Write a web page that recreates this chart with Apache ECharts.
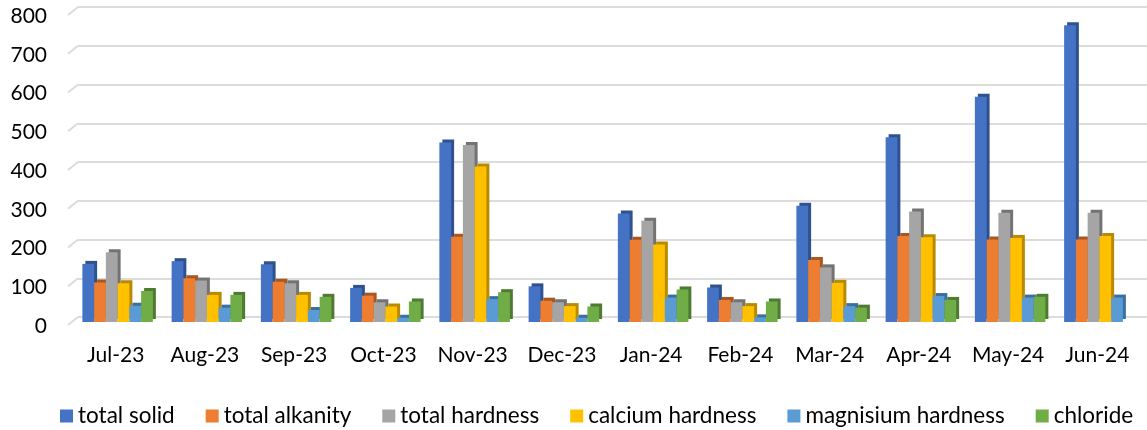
<!DOCTYPE html>
<html>
<head>
<meta charset="utf-8">
<title>Water quality parameters, Jul-23 to Jun-24</title>
<script src="https://cdn.jsdelivr.net/npm/echarts@6/dist/echarts.min.js"></script>
<style>
  html, body { margin: 0; padding: 0; background: #ffffff; }
  #chart { width: 1147px; height: 430px; }
</style>
</head>
<body>
<div id="chart"></div>
<script>
// Monthly categories
const months = ['Jul-23', 'Aug-23', 'Sep-23', 'Oct-23', 'Nov-23', 'Dec-23',
                'Jan-24', 'Feb-24', 'Mar-24', 'Apr-24', 'May-24', 'Jun-24'];

// Series values per month
const totalSolid        = [150, 157, 149, 88, 463, 92, 280, 89, 300, 477, 581, 766];
const totalAlkanity     = [102, 113, 104, 68, 220, 55, 212, 57, 160, 222, 213, 213];
const totalHardness     = [180, 107, 100, 51, 457, 51, 261, 51, 141, 285, 282, 282];
const calciumHardness   = [100, 70, 70, 40, 401, 41, 200, 41, 101, 219, 217, 222];
const magnisiumHardness = [42, 37, 31, 11, 59, 11, 63, 12, 41, 67, 63, 63];
const chloride          = [80, 70, 65, 53, 77, 40, 84, 53, 37, 57, 65, null];

// Value axis ticks
const yTicks = [0, 100, 200, 300, 400, 500, 600, 700, 800];

const seriesDefs = [
  { name: 'total solid',        data: totalSolid,        color: '#4472C4', side: '#2F528F' },
  { name: 'total alkanity',     data: totalAlkanity,     color: '#ED7D31', side: '#A9561F' },
  { name: 'total hardness',     data: totalHardness,     color: '#A5A5A5', side: '#737373' },
  { name: 'calcium hardness',   data: calciumHardness,   color: '#FFC000', side: '#B88A00' },
  { name: 'magnisium hardness', data: magnisiumHardness, color: '#5B9BD5', side: '#3A6F9F' },
  { name: 'chloride',           data: chloride,          color: '#70AD47', side: '#4E7B31' }
];

const FONT = 'Lato, "Open Sans", sans-serif';
const GRID_COLOR = '#DCDCDC';
const yMin = yTicks[0];
const yMax = yTicks[yTicks.length - 1];
const yStep = yTicks[1] - yTicks[0];

const chart = echarts.init(document.getElementById('chart'), null, { renderer: 'canvas' });

// short receding segment at the left end of each back-wall gridline
function renderWallEdge(params, api) {
  const y = api.coord([0, api.value(0)])[1];
  const x = params.coordSys.x;
  return {
    type: 'line',
    shape: { x1: x - 10, y1: y + 8, x2: x, y2: y },
    style: { stroke: GRID_COLOR, lineWidth: 2 },
    silent: true
  };
}

const hiddenValueAxis = {
  type: 'value', min: yMin, max: yMax, interval: yStep,
  axisLine: { show: false },
  axisTick: { show: false },
  splitLine: { show: false },
  axisLabel: { show: false }
};

chart.setOption({
  animation: false,
  backgroundColor: '#ffffff',
  grid: [
    // back wall carrying the gridlines
    { left: 78, right: 0, top: 7, bottom: 113 },
    // front plane carrying the columns and category labels
    { left: 73, right: 3, top: 12, bottom: 108 },
    // value labels, set on the lower front edge
    { left: 73, right: 3, top: 16, bottom: 104 }
  ],
  legend: {
    top: 397,
    left: 55,
    icon: 'rect',
    itemWidth: 13,
    itemHeight: 13,
    itemGap: 31,
    textStyle: { fontFamily: FONT, fontSize: 22.5, lineHeight: 28, color: '#000000' },
    data: seriesDefs.map(s => s.name)
  },
  xAxis: [
    { type: 'category', gridIndex: 0, data: months, show: false },
    {
      type: 'category', gridIndex: 1, data: months,
      axisLine: { show: false },
      axisTick: { show: false },
      axisLabel: { interval: 0, margin: 23, fontFamily: FONT, fontSize: 21, color: '#000000', padding: [0, 4, 0, 0] }
    },
    { type: 'category', gridIndex: 2, data: months, show: false }
  ],
  yAxis: [
    Object.assign({}, hiddenValueAxis, {
      gridIndex: 0,
      splitLine: { show: true, lineStyle: { color: GRID_COLOR, width: 2 } }
    }),
    Object.assign({}, hiddenValueAxis, { gridIndex: 1 }),
    Object.assign({}, hiddenValueAxis, {
      gridIndex: 2,
      axisLabel: { show: true, margin: 26, fontFamily: FONT, fontSize: 21, color: '#000000' }
    })
  ],
  series: [
    {
      type: 'custom',
      xAxisIndex: 0,
      yAxisIndex: 0,
      data: yTicks.map(v => [v]),
      encode: { y: 0 },
      renderItem: renderWallEdge,
      silent: true,
      z: 0
    }
  ].concat(seriesDefs.map(s => ({
    name: s.name,
    type: 'bar',
    xAxisIndex: 1,
    yAxisIndex: 1,
    data: s.data,
    barGap: '0%',
    barCategoryGap: '21%',
    itemStyle: {
      color: s.color,
      // darker offset copy gives each column its side and top faces
      shadowColor: s.side,
      shadowBlur: 0,
      shadowOffsetX: 3,
      shadowOffsetY: -3
    },
    emphasis: { disabled: true }
  })))
});
</script>
</body>
</html>
